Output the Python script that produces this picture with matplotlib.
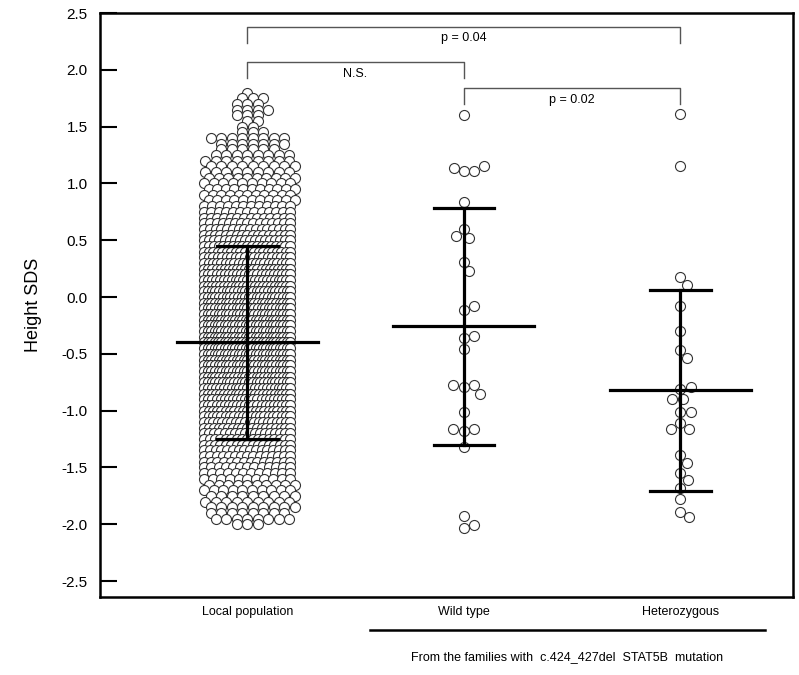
import numpy as np
from matplotlib import pyplot as plt
import matplotlib.transforms as mtrans

plt.rcParams['font.family'] = ['Liberation Sans', 'DejaVu Sans']

# data
groups = ['Local population', 'Wild type', 'Heterozygous']

# local population: number of subjects at each 0.05 step of height SDS
local_levels = np.round(np.arange(1.80, -2.001, -0.05), 2)
local_counts = [1, 3, 3, 4, 3, 2, 2, 3, 8, 7, 6, 8, 9, 9, 9, 10, 10, 11, 11, 11,
                12, 13, 14, 15, 16, 17, 18, 19, 20, 20, 21, 22, 22, 23, 23, 24, 24,
                25, 25, 25, 26, 26, 26, 26, 26, 26, 26, 25, 25, 25, 24, 24, 23, 23,
                22, 22, 21, 21, 20, 19, 18, 17, 17, 16, 15, 14, 13, 12, 11, 10, 10,
                9, 9, 9, 8, 8, 3]

wild = [1.60, 1.11, 1.11, 1.14, 1.15, 0.84, 0.60, 0.52, 0.54, 0.31, 0.23,
        -0.11, -0.08, -0.36, -0.34, -0.46, -0.79, -0.77, -0.77, -0.85, -1.01,
        -1.18, -1.16, -1.16, -1.32, -1.93, -2.03, -2.01]
hetero = [1.61, 1.15, 0.18, 0.11, -0.08, -0.30, -0.47, -0.54, -0.81, -0.79,
          -0.90, -0.90, -1.01, -1.01, -1.11, -1.16, -1.16, -1.39, -1.46, -1.55,
          -1.61, -1.68, -1.78, -1.89, -1.94]

means = [-0.40, -0.255, -0.82]
upper = [0.45, 0.78, 0.06]
lower = [-1.25, -1.30, -1.71]

brackets = [(0, 2, 2.38, 'p = 0.04'), (0, 1, 2.07, 'N.S.'), (1, 2, 1.84, 'p = 0.02')]

PXX = 216.6   # px per x unit
PXY = 113.6   # px per y unit
D = 10.5      # circle diameter px


def swarm(vals, d=D):
    placed = []
    xs = []
    grid = np.arange(0, 80, 0.5)
    for v in vals:
        yv = v * PXY
        for g in grid:
            ok = None
            for s in ([g] if g == 0 else [g, -g]):
                if all((s - px) ** 2 + (yv - py) ** 2 >= d * d for px, py in placed):
                    ok = s
                    break
            if ok is not None:
                break
        placed.append((ok, yv))
        xs.append(ok / PXX)
    return np.array(xs)


fig = plt.figure(figsize=(7.99, 6.75), dpi=100)
ax = fig.add_axes([100 / 799, 1 - 597 / 675, 693 / 799, 584 / 675])

# local population rows
lx, ly = [], []
half = 43.0
for k, (lev, n) in enumerate(zip(local_levels, local_counts)):
    step = min(10.5, 2 * half / max(n - 1, 1))
    shift = (step / 2) if (k % 2 and n < 12) else 0
    for i in range(n):
        lx.append(((i - (n - 1) / 2) * step + shift) / PXX)
        ly.append(lev)
lx = np.array(lx)
ly = np.array(ly)

msz = 52
ax.scatter(lx, ly, s=msz, facecolor='white', edgecolor='#333333', linewidth=0.8, zorder=2)
ax.scatter(1 + swarm(wild), wild, s=msz, facecolor='white', edgecolor='#333333', linewidth=0.8, zorder=2)
ax.scatter(2 + swarm(hetero), hetero, s=msz, facecolor='white', edgecolor='#333333', linewidth=0.8, zorder=2)

# mean and SD bars
for i in range(3):
    ax.plot([i, i], [lower[i], upper[i]], color='black', lw=2.3, zorder=3)
    ax.plot([i - 0.14, i + 0.14], [upper[i], upper[i]], color='black', lw=2.3, zorder=3)
    ax.plot([i - 0.14, i + 0.14], [lower[i], lower[i]], color='black', lw=2.3, zorder=3)
    ax.plot([i - 0.325, i + 0.325], [means[i], means[i]], color='black', lw=2.3, zorder=3)

# significance brackets
for a, b, h, txt in brackets:
    ax.plot([a, a, b, b], [h - 0.14, h, h, h - 0.14], color='#555555', lw=1.0, zorder=1)
    ax.text((a + b) / 2, h - 0.05, txt, ha='center', va='top', fontsize=9)

ax.set_xlim(-0.68, 2.52)
ax.set_ylim(-2.64, 2.5)
ax.set_xticks([])
yt = np.arange(-2.5, 2.51, 0.5)
ax.set_yticks(yt)
ax.set_yticklabels(['%.1f' % v for v in yt], fontsize=11)
ax.tick_params(axis='y', direction='in', length=12, width=1.5, pad=9)
for sp in ax.spines.values():
    sp.set_linewidth(1.8)
ax.set_ylabel('Height SDS', fontsize=13, labelpad=14)

tr = mtrans.blended_transform_factory(ax.transData, ax.transAxes)
for i, g in enumerate(groups):
    ax.text(i, -0.026, g, transform=tr, ha='center', va='center', fontsize=9, clip_on=False)
ax.plot([0.567, 2.39], [-0.0565, -0.0565], transform=tr, color='black', lw=1.8, clip_on=False)
ax.text(1.478, -0.103, 'From the families with  c.424_427del  STAT5B  mutation',
        transform=tr, ha='center', va='center', fontsize=9, clip_on=False)

plt.savefig('out.png')
